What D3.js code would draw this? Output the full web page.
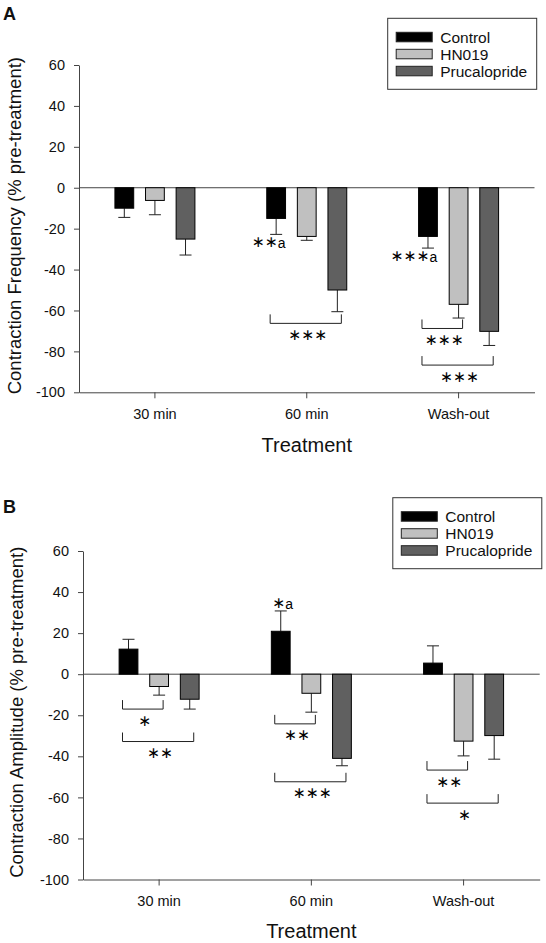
<!DOCTYPE html>
<html><head><meta charset="utf-8">
<script src="https://cdn.jsdelivr.net/npm/d3@7"></script>
<style>
html,body{margin:0;padding:0;background:#fff;}
svg{display:block;font-family:"Liberation Sans",Arial,sans-serif;}
</style></head>
<body>
<svg id="chart" width="546" height="943"></svg>
<script>
// ---------- DATA ----------
const categories = ["30 min", "60 min", "Wash-out"];
const seriesNames = ["Control", "HN019", "Prucalopride"];
const seriesColors = ["#000000", "#c0c0c0", "#606060"];
const yTicks = [-100, -80, -60, -40, -20, 0, 20, 40, 60];

// Panel A: Contraction Frequency (mean and SEM)
const freqControl = [-10, -15, -23.8];
const freqControlErr = [4.5, 7.8, 5.7];
const freqHN019 = [-6.2, -23.8, -57];
const freqHN019Err = [7.0, 1.9, 6.7];
const freqPrucalopride = [-25.1, -50, -70.2];
const freqPrucaloprideErr = [7.8, 10.6, 6.9];
const freqBrackets = [
  {cat: "60 min", from: "Control", to: "Prucalopride", y: -66.3, label: "***"},
  {cat: "Wash-out", from: "Control", to: "HN019", y: -68.8, label: "***"},
  {cat: "Wash-out", from: "Control", to: "Prucalopride", y: -86.7, label: "***"}
];
const freqMarks = [
  {cat: "60 min", series: "Control", label: "**", sup: "a"},
  {cat: "Wash-out", series: "Control", label: "***", sup: "a"}
];

// Panel B: Contraction Amplitude (mean and SEM)
const ampControl = [12.2, 20.9, 5.4];
const ampControlErr = [4.8, 9.9, 8.4];
const ampHN019 = [-6, -9.3, -32.6];
const ampHN019Err = [4.2, 9.2, 7.2];
const ampPrucalopride = [-12.2, -41, -29.9];
const ampPrucaloprideErr = [4.8, 3.6, 11.5];
const ampBrackets = [
  {cat: "30 min", from: "Control", to: "HN019", y: -17, label: "*"},
  {cat: "30 min", from: "Control", to: "Prucalopride", y: -32.8, label: "**"},
  {cat: "60 min", from: "Control", to: "HN019", y: -24.2, label: "**"},
  {cat: "60 min", from: "Control", to: "Prucalopride", y: -52.4, label: "***"},
  {cat: "Wash-out", from: "Control", to: "HN019", y: -46.7, label: "**"},
  {cat: "Wash-out", from: "Control", to: "Prucalopride", y: -62.8, label: "*"}
];
const ampMarks = [
  {cat: "60 min", series: "Control", label: "*", sup: "a"}
];

// ---------- DRAW ----------
const svg = d3.select("#chart");
const AXIS = "#444";

function buildRows(means, errs) {
  const rows = [];
  categories.forEach((c, i) => {
    seriesNames.forEach((s, j) => {
      rows.push({cat: c, series: s, value: means[j][i], err: errs[j][i]});
    });
  });
  return rows;
}

function star(s) { return s.replace(/\*/g, "\u2217"); }

function drawPanel(cfg) {
  const g = svg.append("g");
  const x = d3.scaleBand().domain(categories).range([cfg.left, cfg.right]).padding(0);
  const xs = d3.scaleBand().domain(seriesNames).range([-40, 40]).paddingInner(0.386).paddingOuter(0);
  const y = d3.scaleLinear().domain([-100, 60]).range([cfg.bottom, cfg.top]);
  const color = d3.scaleOrdinal().domain(seriesNames).range(seriesColors);
  const cx = (c, s) => x(c) + x.bandwidth() / 2 + xs(s) + xs.bandwidth() / 2;

  // y axis
  const yAxis = d3.axisLeft(y).tickValues(yTicks).tickFormat(d => String(d))
    .tickSize(5).tickSizeOuter(0).tickPadding(9);
  const ya = g.append("g").attr("transform", `translate(${cfg.left},0)`).call(yAxis);
  ya.selectAll("text").attr("font-size", 14.5).attr("fill", "#111")
    .attr("font-family", "'Liberation Sans',Arial,sans-serif");
  ya.selectAll("line,path").attr("stroke", AXIS);

  // x axis
  const xAxis = d3.axisBottom(x).tickSize(6).tickSizeOuter(0).tickPadding(10);
  const xa = g.append("g").attr("transform", `translate(0,${cfg.bottom})`).call(xAxis);
  xa.selectAll("text").attr("font-size", 14.5).attr("fill", "#111")
    .attr("font-family", "'Liberation Sans',Arial,sans-serif");
  xa.selectAll("line,path").attr("stroke", AXIS);

  // zero line
  g.append("line").attr("x1", cfg.left).attr("x2", cfg.right)
    .attr("y1", y(0)).attr("y2", y(0)).attr("stroke", AXIS);

  const rows = buildRows(cfg.means, cfg.errs);

  // error bars (one-sided, away from zero)
  const eb = g.append("g");
  rows.forEach(d => {
    const end = d.value >= 0 ? d.value + d.err : d.value - d.err;
    const xc = cx(d.cat, d.series);
    eb.append("line").attr("x1", xc).attr("x2", xc).attr("y1", y(d.value)).attr("y2", y(end)).attr("stroke", "#222");
    eb.append("line").attr("x1", xc - 6).attr("x2", xc + 6).attr("y1", y(end)).attr("y2", y(end)).attr("stroke", "#222");
  });

  // bars
  g.append("g").selectAll("rect").data(rows).join("rect")
    .attr("x", d => cx(d.cat, d.series) - xs.bandwidth() / 2)
    .attr("width", xs.bandwidth())
    .attr("y", d => y(Math.max(0, d.value)))
    .attr("height", d => Math.abs(y(d.value) - y(0)))
    .attr("fill", d => color(d.series))
    .attr("stroke", "#000").attr("stroke-width", 1);

  // comparison brackets
  const bg = g.append("g");
  cfg.brackets.forEach(b => {
    const x1 = cx(b.cat, b.from) - 6, x2 = cx(b.cat, b.to) + 4;
    const yy = y(b.y);
    bg.append("path").attr("d", `M${x1},${yy - 9}V${yy}H${x2}V${yy - 9}`)
      .attr("fill", "none").attr("stroke", "#222");
    bg.append("text").attr("x", (x1 + x2) / 2 + 2).attr("y", yy + 11.5)
      .attr("text-anchor", "middle").attr("dominant-baseline", "central")
      .attr("font-family", "'DejaVu Sans',sans-serif").attr("font-size", 15.5)
      .attr("fill", "#000").text(star(b.label));
  });

  // significance marks next to bars
  cfg.marks.forEach(m => {
    const row = rows.find(r => r.cat === m.cat && r.series === m.series);
    const end = row.value >= 0 ? row.value + row.err : row.value - row.err;
    const right = cx(m.cat, m.series) + xs.bandwidth() / 2 + (row.value >= 0 ? 3 : 0);
    const yc = row.value >= 0 ? y(end) - 8 : y(end) + 8;
    const t = bg.append("text").attr("x", right).attr("y", yc)
      .attr("text-anchor", "end").attr("dominant-baseline", "central").attr("fill", "#000");
    t.append("tspan").attr("font-family", "'DejaVu Sans',sans-serif").attr("font-size", 15.5)
      .text(star(m.label));
    t.append("tspan").attr("font-family", "'Liberation Sans',Arial,sans-serif").attr("font-size", 14)
      .attr("dy", 1).text(m.sup);
  });

  // axis titles
  g.append("text").attr("x", (cfg.left + cfg.right) / 2).attr("y", cfg.bottom + cfg.xTitleOff)
    .attr("text-anchor", "middle").attr("dominant-baseline", "central")
    .attr("font-size", 20).attr("fill", "#111").text("Treatment");
  g.append("text").attr("transform", `translate(${cfg.yTitleX},${(cfg.top + cfg.bottom) / 2 - 3}) rotate(-90)`)
    .attr("text-anchor", "middle").attr("dominant-baseline", "central")
    .attr("font-size", 18.5).attr("fill", "#111").text(cfg.yTitle);

  // panel letter
  g.append("text").attr("x", 3).attr("y", cfg.letterY).attr("font-weight", "bold")
    .attr("font-size", 18).attr("fill", "#111").text(cfg.letter);

  // legend
  const lg = g.append("g").attr("transform", `translate(${cfg.legX},${cfg.legY})`);
  lg.append("rect").attr("width", 149).attr("height", 71).attr("fill", "#fff").attr("stroke", "#333");
  seriesNames.forEach((s, i) => {
    lg.append("rect").attr("x", 8.5).attr("y", 14 + i * 17).attr("width", 36).attr("height", 9.5)
      .attr("fill", color(s)).attr("stroke", "#222");
    lg.append("text").attr("x", 52.5).attr("y", 19 + i * 17).attr("dominant-baseline", "central")
      .attr("font-size", 15.5).attr("fill", "#111").text(s);
  });
}

drawPanel({
  left: 79, right: 534.5, top: 65, bottom: 392.3,
  means: [freqControl, freqHN019, freqPrucalopride],
  errs: [freqControlErr, freqHN019Err, freqPrucaloprideErr],
  brackets: freqBrackets, marks: freqMarks,
  yTitle: "Contraction Frequency (% pre-treatment)", yTitleX: 14, xTitleOff: 53,
  letter: "A", letterY: 20, legX: 387.7, legY: 18.3
});
drawPanel({
  left: 83, right: 539.7, top: 551, bottom: 879.5,
  means: [ampControl, ampHN019, ampPrucalopride],
  errs: [ampControlErr, ampHN019Err, ampPrucaloprideErr],
  brackets: ampBrackets, marks: ampMarks,
  yTitle: "Contraction Amplitude (% pre-treatment)", yTitleX: 16, xTitleOff: 51,
  letter: "B", letterY: 513, legX: 392.8, legY: 497.7
});
</script>
</body></html>
